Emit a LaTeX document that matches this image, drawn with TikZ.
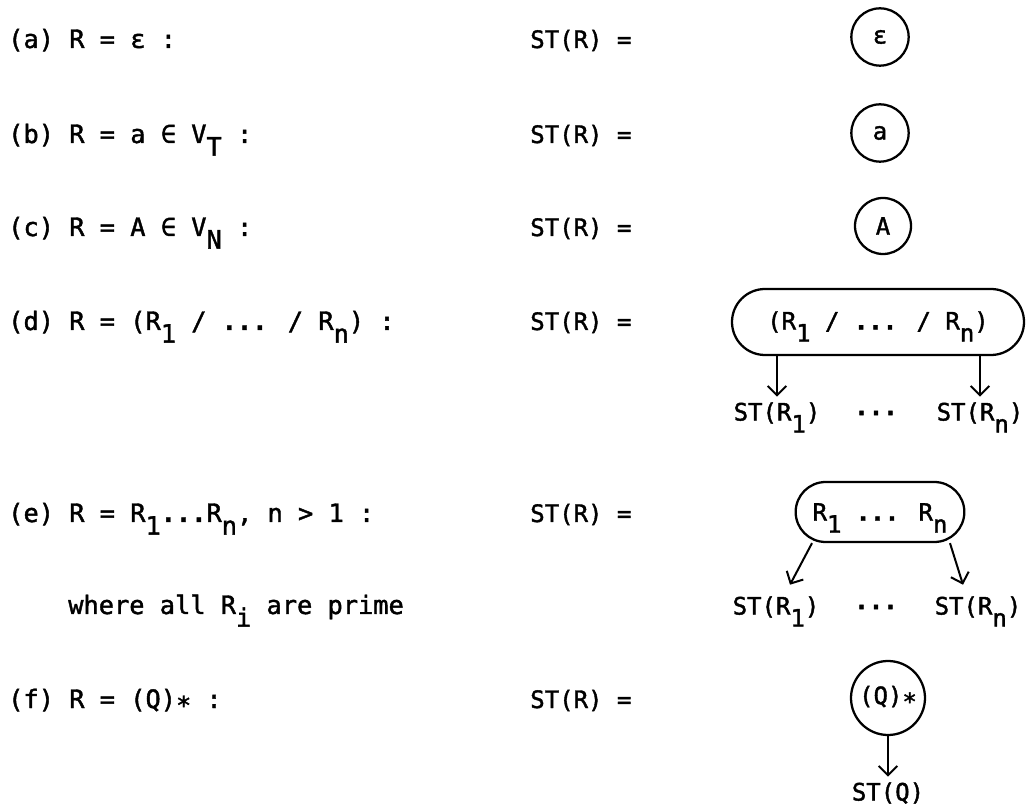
\documentclass[tikz,border=0pt]{standalone}
\usepackage{fontspec}
\setmainfont{DejaVu Sans Mono}[RawFeature={embolden=1.6}]
\usetikzlibrary{arrows.meta,shapes.misc,calc}
\newcommand\lo[1]{\raisebox{-0.5em}[0pt][0pt]{#1}}
\newcommand\dts{\textbf{...}}
\begin{document}
\begin{tikzpicture}[x=0.75pt,y=-0.75pt,
  every node/.style={font=\fontsize{18}{21}\selectfont},
  txt/.style={anchor=base west,inner sep=0pt},
  ltxt/.style={txt,font=\fontsize{19}{22}\selectfont},
  child/.style={inner sep=4pt},
  circ/.style={circle,draw,line width=1.7pt,inner sep=1pt},
  rbox/.style={rounded rectangle,draw,line width=1.7pt,inner sep=2pt},
  arr/.style={line width=1.5pt,-{Straight Barb[length=7pt,width=14pt,line width=1.5pt]}}]
\useasboundingbox (0,0) rectangle (1029,805);
% left column
\node[ltxt] (la) at (8,48) {(a) R = ε :};
\node[ltxt] (lb) at (8,143) {(b) R = a ∈ V\lo{T} :};
\node[ltxt] (lc) at (8,236) {(c) R = A ∈ V\lo{N} :};
\node[ltxt] (ld) at (8,330) {(d) R = (R\lo{1} / \dts{} / R\lo{n}) :};
\node[ltxt] (le) at (8,522) {(e) R = R\lo{1}\dts{}R\lo{n}, n > 1 :};
\node[ltxt] (lw) at (68,614) {where all R\lo{i} are prime};
\node[ltxt] (lf) at (8,708) {(f) R = (Q)\raisebox{-0.25em}{*} :};
% middle column
\node[txt] (sa) at (530,48) {ST(R) =};
\node[txt] (sb) at (530,143) {ST(R) =};
\node[txt] (sc) at (530,236) {ST(R) =};
\node[txt] (sd) at (530,330) {ST(R) =};
\node[txt] (se) at (530,522) {ST(R) =};
\node[txt] (sf) at (530,708) {ST(R) =};
% trees
\node[circ,minimum size=43pt] (ca) at (880,37) {ε};
\node[circ,minimum size=43pt] (cb) at (880,133) {a};
\node[circ,minimum size=42pt] (cc) at (883,226) {A};
% (d)
\node[rbox,minimum width=223pt,minimum height=49.5pt] (dbox) at (878,322) {(R\lo{1} / \dts{} / R\lo{n})};
\node[child] (d1) at (777,413) {ST(R\lo{1})};
\node[child] (dd) at (876,413) {\dts};
\node[child] (d2) at (980,413) {ST(R\lo{n})};
\draw[arr] (d1.north |- dbox.south) -- (d1.north);
\draw[arr] (d2.north |- dbox.south) -- (d2.north);
% (e)
\node[rbox,minimum width=130.5pt,minimum height=45pt] (ebox) at (880,512) {R\lo{1} \dts{} R\lo{n}};
\node[child] (e1) at (776,607) {ST(R\lo{1})};
\node[child] (ed) at (876,607) {\dts};
\node[child] (e2) at (978,607) {ST(R\lo{n})};
\coordinate (e1s) at ($(ebox.south)+(-68,0)$);
\coordinate (e2s) at ($(ebox.south)+(70,0)$);
\coordinate (e1t) at ($(e1.north)+(14,-6)$);
\coordinate (e2t) at ($(e2.north)+(-15,-6)$);
\draw[arr] (e1s) -- (e1t);
\draw[arr] (e2s) -- (e2t);
% (f)
\node[circ,minimum size=55.5pt] (fc) at (888,698) {(Q)\raisebox{-0.25em}{*}};
\node[child] (fq) at (888,793) {ST(Q)};
\draw[arr] (fc.south) -- (fq.north);
\end{tikzpicture}
\end{document}
